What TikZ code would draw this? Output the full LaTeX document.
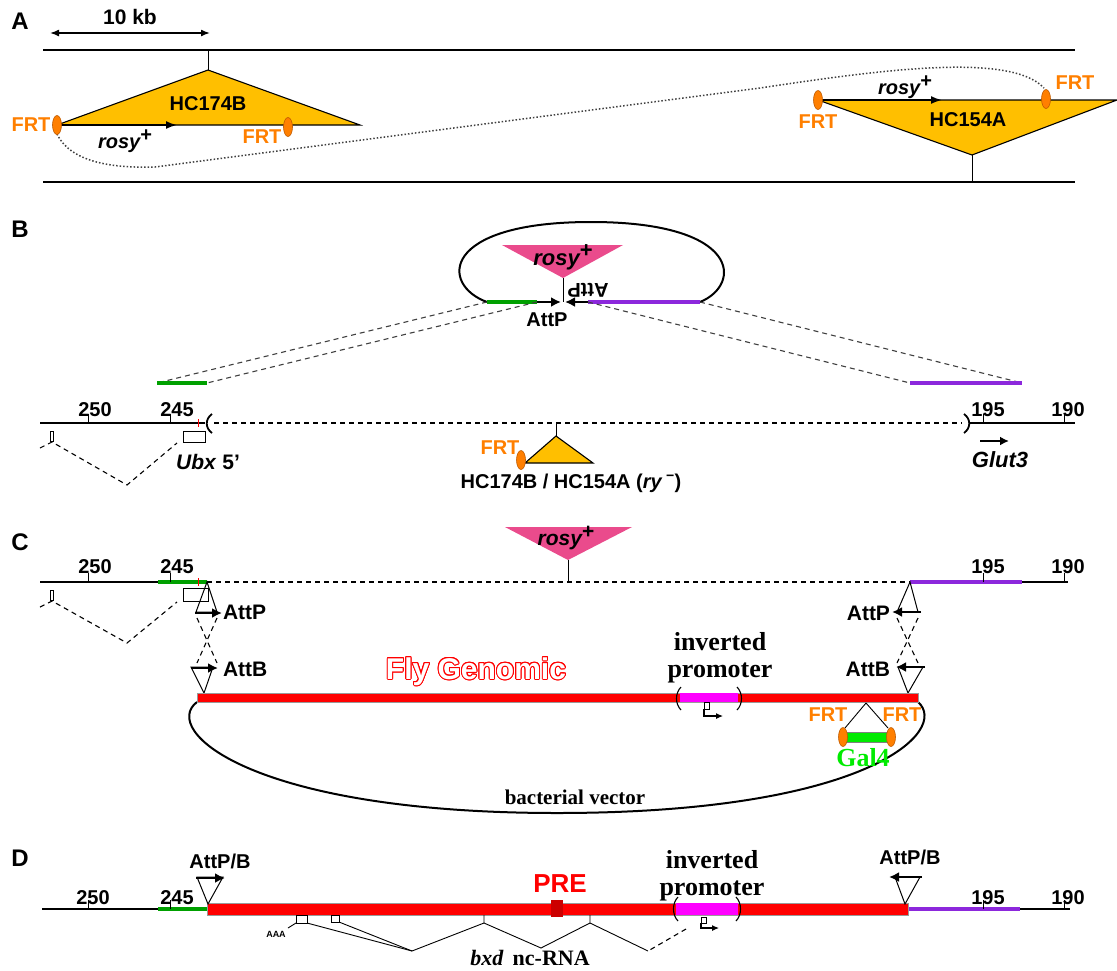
\documentclass[tikz,border=0pt]{standalone}
\usepackage{fontspec}
\setmainfont{Liberation Sans}
\newfontfamily\tnr{Liberation Serif}
\usepackage{contour}
\usetikzlibrary{arrows.meta}
\newcommand\myfs[1]{\fontsize{#1}{#1}\selectfont}
\definecolor{gold}{RGB}{255,191,0}
\definecolor{frt}{RGB}{255,127,0}
\definecolor{frtedge}{RGB}{190,90,0}
\definecolor{rosy}{RGB}{234,75,140}
\definecolor{gline}{RGB}{0,160,0}
\definecolor{pline}{RGB}{140,40,220}
\definecolor{galg}{RGB}{0,235,0}
\definecolor{mag}{RGB}{255,0,255}
\definecolor{barred}{RGB}{255,0,0}
\begin{document}
\begin{tikzpicture}[x=1pt,y=-1pt,
  every node/.style={inner sep=0pt,outer sep=0pt},
  sb/.style={font={\myfs{#1}\bfseries}}, sb/.default=20,
  sbi/.style={font={\myfs{#1}\bfseries\itshape}}, sbi/.default=20,
  tb/.style={font={\tnr\myfs{#1}\bfseries}}, tb/.default=22,
  frtlab/.style={font={\myfs{20}\bfseries}, text=frt},
  chrom/.style={line width=1.5pt},
  gen/.style={line width=2pt},
  thinl/.style={line width=0.9pt},
  gseg/.style={draw=gline, line width=3.2pt},
  pseg/.style={draw=pline, line width=3.2pt},
  tarr/.style={-{Latex[length=10pt,width=10pt]}, line width=2.6pt},
  narr/.style={-{Latex[length=11pt,width=8pt]}, line width=1.8pt},
  dsh/.style={dash pattern=on 5pt off 4pt, line width=1.1pt},
  dot/.style={dash pattern=on 1.5pt off 2pt, line width=1.5pt, draw=black!75},
  frtell/.style={fill=frt, draw=frtedge, line width=0.6pt},
  tri/.style={fill=gold, draw=black, line width=1.1pt},
  att/.style={draw=black, line width=1pt},
  paren/.style={line width=1.1pt},
  rosytxt/.style={font={\myfs{#1}\bfseries\itshape}},
]
\newcommand\rsy{rosy\raisebox{0.35em}{\normalfont\bfseries+}}
\useasboundingbox (0,0) rectangle (1117,970);

%%%%%%%%%%%%%%%% Panel A
\node[sb=24] (pA) at (20,21) {A};
\node[sb=21] (kb) at (130,17) {10 kb};
\coordinate (kbL) at (50,33); \coordinate (kbR) at (210,33);
\draw[{Latex[length=9pt,width=7pt]}-{Latex[length=9pt,width=7pt]}, line width=1.5pt] (kbL) -- (kbR);
\coordinate (At1) at (43,50); \coordinate (At2) at (1075,50);
\coordinate (Ab1) at (43,182); \coordinate (Ab2) at (1075,182);
\draw[chrom] (At1) -- (At2);
\draw[chrom] (Ab1) -- (Ab2);
% dotted recombination path
\draw[dot] (57,134) .. controls (72,165) and (120,168) .. (155,167) -- (760,88) .. controls (880,70) and (1010,52) .. (1044,88);
% HC174B
\coordinate (h1apex) at (208,70); \coordinate (h1L) at (57,125); \coordinate (h1R) at (360,125);
\draw[thinl] (208,50) -- (h1apex);
\draw[tri] (h1apex) -- (h1R) -- (h1L) -- cycle;
\node[sb=20] (h1lab) at (208,104) {HC174B};
\coordinate (r1e) at (177,125);
\draw[narr] (h1L) -- (r1e);
\node[rosytxt=20] (r1lab) at (125,141) {\rsy};
\draw[frtell] (h1L) ellipse [x radius=4.5pt, y radius=9.5pt];
\node[frtlab] (f1) at (31,125) {FRT};
\draw[frtell] (288,127) ellipse [x radius=4.5pt, y radius=9.5pt];
\node[frtlab] (f2) at (262,137) {FRT};
% HC154A
\coordinate (h2apex) at (972,155); \coordinate (h2L) at (818,100); \coordinate (h2R) at (1117,100);
\draw[thinl] (h2apex) -- (972,182);
\draw[tri] (h2L) -- (h2R) -- (h2apex) -- cycle;
\node[sb=20] (h2lab) at (968,120) {HC154A};
\coordinate (r2e) at (942,100);
\draw[narr] (h2L) -- (r2e);
\node[rosytxt=20] (r2lab) at (905,87) {\rsy};
\draw[frtell] (h2L) ellipse [x radius=4.5pt, y radius=9.5pt];
\node[frtlab] (f3) at (818,122) {FRT};
\draw[frtell] (1046,99) ellipse [x radius=4.5pt, y radius=9.5pt];
\node[frtlab] (f4) at (1075,83) {FRT};

%%%%%%%%%%%%%%%% Panel B
\node[sb=24] (pB) at (20,229) {B};
% plasmid loop
\coordinate (lpL) at (487,302); \coordinate (lpR) at (700,302);
\draw[gen] (lpL) .. controls (440,285) and (440,222) .. (591,222) .. controls (742,222) and (742,285) .. (lpR);
\coordinate (gB1) at (537,302); \coordinate (pB1) at (588,302); \coordinate (attc) at (563,302);
\draw[gseg] (lpL) -- (gB1);
\draw[pseg] (pB1) -- (lpR);
\draw[tarr] (gB1) -- (561,302);
\draw[tarr] (pB1) -- (565,302);
\draw[thinl] (563,278) -- (attc);
\fill[rosy] (502,245) -- (623,245) -- (563,278) -- cycle;
\node[rosytxt=22] (rB) at (563,257) {\rsy};
\node[sb=20] (attB1) at (547,320) {AttP};
\node[sb=20, rotate=180] (attB2) at (588,290) {AttP};
% homology arms
\coordinate (gL1) at (157,383); \coordinate (gL2) at (207,383);
\coordinate (pR1) at (910,383); \coordinate (pR2) at (1022,383);
\draw[dsh, draw=black!75] (lpL) -- (gL1);
\draw[dsh, draw=black!75] (gB1) -- (gL2);
\draw[dsh, draw=black!75] (pB1) -- (pR1);
\draw[dsh, draw=black!75] (lpR) -- (pR2);
\draw[gseg] (gL1) -- (gL2);
\draw[pseg] (pR1) -- (pR2);
% genome line
\draw[gen] (40,423) -- (205,423);
\draw[barred, line width=1pt] (198,419) -- (198,427);
\draw[paren, line width=1.8pt] (212,414) .. controls (205,419) and (205,428) .. (212,433);
\draw[dsh, line width=1.6pt] (214,423) -- (962,423);
\draw[paren, line width=1.8pt] (964,414) .. controls (971,419) and (971,428) .. (964,433);
\draw[gen] (970,423) -- (1075,423);
\foreach \x in {88,170,983,1064}{
  \draw[thinl] (\x,423) -- (\x,414);
}
\node[sb=20] (nB250) at (95,410) {250};
\node[sb=20] (nB245) at (177,410) {245};
\node[sb=20] (nB195) at (988,410) {195};
\node[sb=20] (nB190) at (1068,410) {190};
\draw[thinl] (50.5,431) rectangle (53.5,441);
\draw[dsh] (40,448) -- (52,442) -- (127,485) -- (177,443);
\draw[thinl] (183,431) rectangle (205,442);
\node[sb=21] (ubx) at (208,462) {\textit{Ubx} 5’};
\coordinate (gl1) at (980,441); \coordinate (gl2) at (1009,441);
\draw[-{Latex[length=9pt,width=9pt]}, line width=2.6pt] (gl1) -- (gl2);
\node[sbi=22] (glut) at (1000,460) {Glut3};
% central insertion
\coordinate (cApex) at (556,436);
\draw[thinl] (556,423) -- (cApex);
\draw[tri] (cApex) -- (593,463) -- (525,463) -- cycle;
\draw[frtell] (521,460) ellipse [x radius=4.5pt, y radius=9.5pt];
\node[frtlab] (f5) at (500,448) {FRT};
\node[sb=20] (hclab) at (571,483) {HC174B / HC154A (\textit{ry}\,\textsuperscript{−})};

%%%%%%%%%%%%%%%% Panel C
\node[sb=24] (pC) at (20,542) {C};
\fill[rosy] (505,527) -- (632,527) -- (568,560) -- cycle;
\node[rosytxt=21] (rC) at (566,538) {\rsy};
\draw[thinl] (568,560) -- (568,582);
\draw[gen] (40,582) -- (158,582);
\draw[gseg] (158,582) -- (207,582);
\draw[barred, line width=1pt] (198,578) -- (198,586);
\draw[dsh, line width=1.6pt] (207,582) -- (910,582);
\draw[pseg] (910,582) -- (1022,582);
\draw[gen] (1022,582) -- (1068,582);
\foreach \x in {88,170,983,1064}{
  \draw[thinl] (\x,582) -- (\x,573);
}
\node[sb=20] (nC250) at (95,567) {250};
\node[sb=20] (nC245) at (177,567) {245};
\node[sb=20] (nC195) at (988,567) {195};
\node[sb=20] (nC190) at (1068,567) {190};
\draw[thinl] (50.5,590) rectangle (53.5,600);
\draw[dsh] (40,607) -- (52,601) -- (127,643) -- (177,602);
\draw[thinl] (183,588) rectangle (208,601);
% left att sites
\draw[att] (207,582) -- (217,612) -- (196,612) -- cycle;
\draw[tarr] (195,613) -- (222,613);
\node[sb=21, anchor=west] (cAttP1) at (223,612) {AttP};
\draw[dsh] (197,618) -- (217,663);
\draw[dsh] (217,618) -- (197,663);
\draw[att] (191,667) -- (213,667) -- (204,693) -- cycle;
\draw[tarr] (191,668) -- (218,668);
\node[sb=21, anchor=west] (cAttB1) at (223,669) {AttB};
% right att sites
\draw[att] (910,582) -- (918,612) -- (897,612) -- cycle;
\draw[tarr] (921,612) -- (892,612);
\node[sb=21, anchor=east] (cAttP2) at (890,613) {AttP};
\draw[dsh] (897,618) -- (918,663);
\draw[dsh] (918,618) -- (897,663);
\draw[att] (898,667) -- (923,667) -- (908,693) -- cycle;
\draw[tarr] (925,667) -- (896,667);
\node[sb=21, anchor=east] (cAttB2) at (890,669) {AttB};
% vector loop
\coordinate (vL) at (197,702); \coordinate (vR) at (918,702);
\draw[gen] (vL) .. controls (160,730) and (250,813) .. (557,813) .. controls (870,813) and (950,730) .. (vR);
\fill[barred] (197,693) rectangle (918,702);
\draw[black!40, line width=0.4pt] (197,693) rectangle (918,702);
\node[font={\myfs{30}\bfseries}] (fly) at (476,672) {\contourlength{1pt}\contour{barred}{\textcolor{white}{Fly Genomic}}};
\node[tb=26, align=center] (invC) at (720,658) {inverted\\[1pt]promoter};
\fill[mag] (680,693) rectangle (738,702);
\draw[paren] (681,687) .. controls (675,693) and (675,704) .. (681,710);
\draw[paren] (737,687) .. controls (743,693) and (743,704) .. (737,710);
\draw[thinl] (704,702) rectangle (709,709);
\draw[-{Latex[length=7pt,width=6pt]}, line width=1.1pt] (704,709) -- (704,716) -- (723,716);
\node[tb=21] (bv) at (575,797) {bacterial vector};
% Gal4
\coordinate (gApex) at (866,703);
\draw[thinl] (gApex) -- (845,728);
\draw[thinl] (gApex) -- (888,728);
\draw[fill=galg, draw=black!50, line width=0.5pt] (844,732) rectangle (890,742);
\draw[frtell] (843,737) ellipse [x radius=4.5pt, y radius=9.5pt];
\draw[frtell] (891,737) ellipse [x radius=4.5pt, y radius=9.5pt];
\node[frtlab] (f6) at (828,715) {FRT};
\node[frtlab] (f7) at (902,715) {FRT};
\node[tb=26, text=galg] (gal4) at (863,758) {Gal4};

%%%%%%%%%%%%%%%% Panel D
\node[sb=24] (pD) at (20,858) {D};
\draw[gen] (42,909) -- (158,909);
\draw[gseg] (158,909) -- (207,909);
\draw[pseg] (908,909) -- (1020,909);
\draw[gen] (1020,909) -- (1070,909);
\foreach \x in {88,170,983,1064}{
  \draw[thinl] (\x,909) -- (\x,900);
}
\node[sb=20] (nD250) at (93,898) {250};
\node[sb=20] (nD245) at (177,898) {245};
\node[sb=20] (nD195) at (988,898) {195};
\node[sb=20] (nD190) at (1068,898) {190};
\fill[barred] (207,903) rectangle (908,915);
\draw[black!40, line width=0.4pt] (207,903) rectangle (908,915);
\fill[red!80!black] (551,900) rectangle (563,917);
\node[sb=26, text=barred] (pre) at (560,884) {PRE};
\node[tb=26, align=center] (invD) at (712,876) {inverted\\[1pt]promoter};
\fill[mag] (676,903) rectangle (738,915);
\draw[paren] (678,897) .. controls (672,903) and (672,915) .. (678,921);
\draw[paren] (736,897) .. controls (742,903) and (742,915) .. (736,921);
\draw[thinl] (701,917) rectangle (706,923);
\draw[-{Latex[length=7pt,width=6pt]}, line width=1.1pt] (701,923) -- (701,928) -- (719,928);
% transcript
\coordinate (v1) at (412,951); \coordinate (v2) at (541,948); \coordinate (v3) at (648,951);
\draw[dsh] (686,929) -- (v3);
\draw[thinl] (590,915) -- (590,923) -- (v3);
\draw[thinl] (590,923) -- (v2) -- (484,923) -- (484,915);
\draw[thinl] (484,923) -- (v1);
\draw[thinl] (296,915) rectangle (307,923);
\draw[thinl] (331,915) rectangle (339,922);
\draw[thinl] (307,923) -- (v1);
\draw[thinl] (339,922) -- (v1);
\draw[thinl] (288,928) -- (296,923);
\node[sb=9] (aaa) at (276,934) {AAA};
\node[tb=22] (bxd) at (530,958) {\textit{bxd}\, nc-RNA};
% AttP/B sites
\draw[att] (197,877) -- (223,877) -- (208,904) -- cycle;
\draw[tarr] (196,878) -- (225,878);
\node[sb=20] (dAtt1) at (220,861) {AttP/B};
\draw[att] (895,877) -- (920,877) -- (905,904) -- cycle;
\draw[tarr] (922,877) -- (889,877);
\node[sb=20] (dAtt2) at (910,857) {AttP/B};
\end{tikzpicture}
\end{document}
